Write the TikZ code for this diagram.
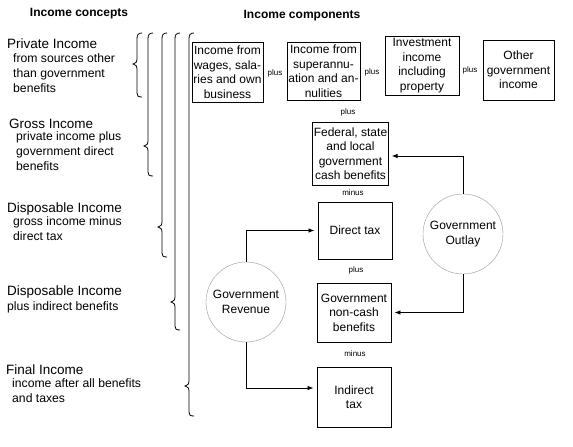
\documentclass[tikz,border=0pt]{standalone}
\usepackage{fontspec}
\setmainfont{Liberation Sans}
\usetikzlibrary{arrows.meta}
\tikzset{
  compbox/.style={draw, line width=0.9pt, align=center, inner sep=1pt,
    font=\fontsize{12}{14.5}\selectfont},
  flowcirc/.style={circle, draw=gray!80, thin, minimum size=80pt, align=center,
    inner sep=0pt, font=\fontsize{12}{14.5}\selectfont},
  oper/.style={inner sep=0pt, font=\fontsize{8}{9}\selectfont},
  conname/.style={anchor=base west, inner sep=0pt, font=\fontsize{13.5}{15}\selectfont},
  condesc/.style={anchor=base west, inner sep=0pt, align=left,
    font=\fontsize{12.2}{15}\selectfont},
  link/.style={line width=0.8pt, -{Latex[length=6pt,width=4.5pt]}, shorten >=3pt}
}
\begin{document}
\begin{tikzpicture}[x=1pt,y=-1pt]
  \useasboundingbox (0,0) rectangle (573,447);
  % Headings
  \node[font=\bfseries\fontsize{12}{14}\selectfont] (hconc) at (79,14) {Income concepts};
  \node[font=\bfseries\fontsize{12}{14}\selectfont] (hcomp) at (302,16) {Income components};
  % Income concepts (descriptions placed by their last line)
  \node[conname] (priv) at (7,48) {Private Income};
  \node[condesc] (privd) at (13,92) {from sources other\\than government\\benefits};
  \node[conname] (gross) at (9,128) {Gross Income};
  \node[condesc] (grossd) at (16,170) {private income plus\\government direct\\benefits};
  \node[conname] (disp) at (7,212) {Disposable Income};
  \node[condesc] (dispd) at (13,240) {gross income minus\\direct tax};
  \node[conname] (dispb) at (7,295) {Disposable Income};
  \node[condesc] (dispbd) at (7,310) {plus indirect benefits};
  \node[conname] (final) at (6,374) {Final Income};
  \node[condesc] (finald) at (12,402) {income after all benefits\\and taxes};
  % Braces
  \foreach \x/\t/\b in {137/64/97, 148/146/176, 162/227/257, 175/302/330, 189/386/416}
    \draw[line width=0.8pt] ({\x+5},33) .. controls ({\x+1},33) and (\x,35) .. (\x,39)
      -- (\x,{\t-5}) .. controls (\x,{\t-2}) .. ({\x-4},\t)
      .. controls (\x,{\t+2}) .. (\x,{\t+5}) -- (\x,{\b-4})
      .. controls (\x,{\b-1}) and ({\x+1},\b) .. ({\x+5},\b);
  % Income components
  \node[compbox, minimum width=71pt, minimum height=60pt] (wages) at (227.5,72)
    {Income from\\wages, sala-\\ries and own\\business};
  \node[compbox, minimum width=73pt, minimum height=58pt] (super) at (323.5,71)
    {Income from\\superannu-\\ation and an-\\nulities};
  \node[compbox, minimum width=74pt, minimum height=59pt] (invest) at (422,65.5)
    {Investment\\income\\including\\property};
  \node[compbox, minimum width=71pt, minimum height=60pt] (other) at (518.5,70)
    {Other\\government\\income};
  \node[compbox, minimum width=75pt, minimum height=63pt] (cash) at (350.5,153.5)
    {Federal, state\\and local\\government\\cash benefits};
  \node[compbox, minimum width=74pt, minimum height=57pt] (direct) at (355,230.5) {Direct tax};
  \node[compbox, minimum width=74pt, minimum height=59pt] (noncash) at (354,312.5)
    {Government\\non-cash\\benefits};
  \node[compbox, minimum width=74pt, minimum height=60pt] (indirect) at (354,397)
    {Indirect\\tax};
  % Operators
  \node[oper] (op1) at (275,73) {plus};
  \node[oper] (op2) at (372,72) {plus};
  \node[oper] (op3) at (470,70) {plus};
  \node[oper] (op4) at (348,112) {plus};
  \node[oper] (op5) at (353,193) {minus};
  \node[oper] (op6) at (356,270) {plus};
  \node[oper] (op7) at (355,354) {minus};
  % Government flows
  \node[flowcirc] (outlay) at (463,234) {Government\\Outlay};
  \node[flowcirc] (revenue) at (246,302) {Government\\Revenue};
  \draw[link] (revenue.north) |- (direct.west);
  \draw[link] (revenue.south) |- ([yshift=9pt]indirect.west);
  \draw[link] (outlay.north) |- ([yshift=-2.5pt]cash.east);
  \draw[link] (outlay.south) |- (noncash.east);
\end{tikzpicture}
\end{document}
